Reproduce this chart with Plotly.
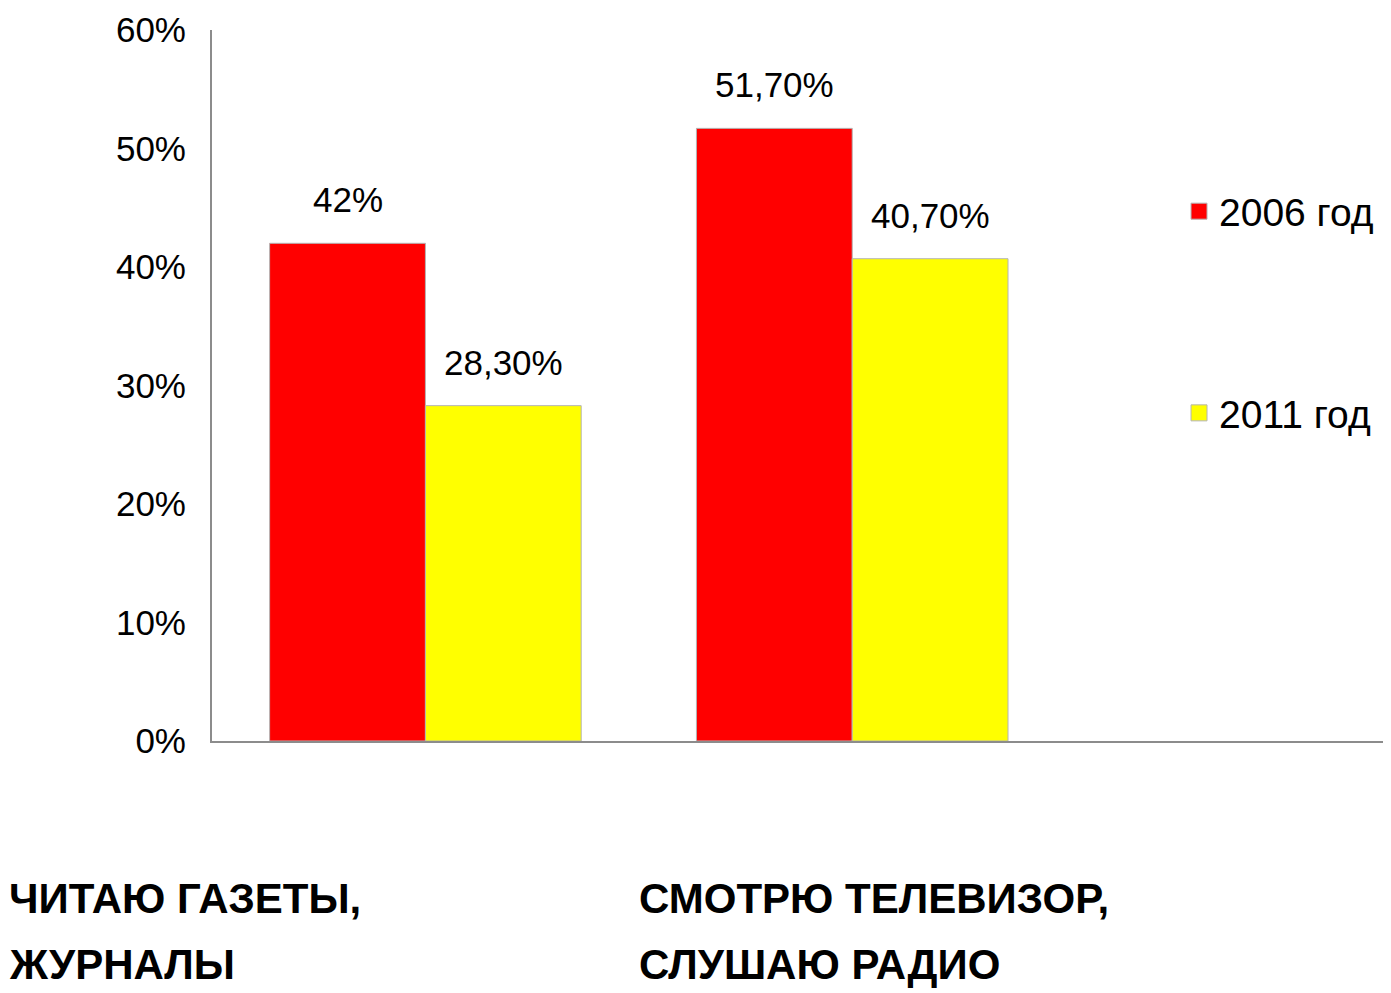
import plotly.graph_objects as go

categories = ["ЧИТАЮ ГАЗЕТЫ, ЖУРНАЛЫ", "СМОТРЮ ТЕЛЕВИЗОР, СЛУШАЮ РАДИО"]
series_names = ["2006 год", "2011 год"]
values_2006 = [42.0, 51.7]
values_2011 = [28.3, 40.7]
labels_2006 = ["42%", "51,70%"]
labels_2011 = ["28,30%", "40,70%"]
colors = ["#ff0000", "#ffff00"]
y_ticks = [0, 10, 20, 30, 40, 50, 60]
y_tick_text = [f"{v}%" for v in y_ticks]

BASE_FONT = "Liberation Sans, Arial, sans-serif"
CAT_FONT = "Liberation Sans Narrow, Arial Narrow, Liberation Sans, sans-serif"

fig = go.Figure()
series = [(series_names[0], values_2006, labels_2006, colors[0]),
          (series_names[1], values_2011, labels_2011, colors[1])]
for k, (name, vals, labs, col) in enumerate(series):
    fig.add_trace(go.Bar(
        x=categories, y=vals, name=name, legendgroup=name, showlegend=False,
        marker=dict(color=col, line=dict(color="#b4b4b4", width=1)),
        hoverinfo="skip",
    ))
    # legend entry with a larger square swatch
    fig.add_trace(go.Scatter(
        x=[None], y=[None], mode="markers", name=name, legendgroup=name,
        marker=dict(symbol="square", size=26, color=col,
                    line=dict(color="#b4b4b4", width=1)),
        hoverinfo="skip",
    ))

bargap = 0.27
half = (1 - bargap) / 4
for k, (name, vals, labs, col) in enumerate(series):
    off = -half if k == 0 else half
    for i, (v, t) in enumerate(zip(vals, labs)):
        fig.add_annotation(x=i + off, y=v, xref="x", yref="y", text=t,
                           showarrow=False, yanchor="bottom", yshift=22,
                           font=dict(family=BASE_FONT, size=35, color="#000"))

# category labels (two lines each) below the axis
cat_x = [-0.174, 0.3608]
for i, c in enumerate(categories):
    parts = c.split(", ")
    lines = [parts[0] + ",", parts[1]]
    for j, ln in enumerate(lines):
        fig.add_annotation(x=cat_x[i], y=-0.222 - j * 0.093, xref="paper", yref="paper",
                           text="<b>" + ln + "</b>", showarrow=False,
                           xanchor="left", yanchor="middle",
                           font=dict(family=CAT_FONT, size=42, color="#000"))

fig.update_layout(
    width=1383, height=985,
    margin=dict(l=204, r=1, t=22, b=252),
    paper_bgcolor="white", plot_bgcolor="white",
    barmode="group", bargap=bargap, bargroupgap=0,
    showlegend=True,
    legend=dict(x=0.8209, y=0.79, xanchor="left", yanchor="top",
                font=dict(family=BASE_FONT, size=39, color="#000"),
                tracegroupgap=148, bgcolor="rgba(0,0,0,0)"),
    xaxis=dict(range=[-0.5, 2.26], showticklabels=False, showgrid=False,
               showline=True, linecolor="#8c8c8c", linewidth=2, ticks="",
               zeroline=False, fixedrange=True),
    yaxis=dict(range=[0, 60], tickmode="array", tickvals=y_ticks, ticktext=y_tick_text,
               showgrid=False, zeroline=False, showline=True,
               linecolor="#8c8c8c", linewidth=2, ticks="outside",
               ticklen=17, tickcolor="white",
               tickfont=dict(family=BASE_FONT, size=35, color="#000")),
)

fig.write_html("out.html")
